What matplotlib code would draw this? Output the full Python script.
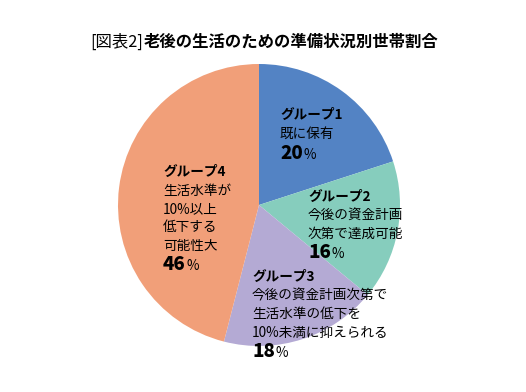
import matplotlib
matplotlib.use("Agg")
import matplotlib.pyplot as plt

plt.rcParams['font.family'] = ['Noto Sans CJK JP', 'DejaVu Sans']

title_pre = "[図表2]"
title_main = "老後の生活のための準備状況別世帯割合"
groups = ["グループ1", "グループ2", "グループ3", "グループ4"]
descs = [
    ["既に保有"],
    ["今後の資金計画", "次第で達成可能"],
    ["今後の資金計画次第で", "生活水準の低下を", "10%未満に抑えられる"],
    ["生活水準が", "10%以上", "低下する", "可能性大"],
]
shares = [20, 16, 18, 46]
colors = ["#5383c4", "#86cdbd", "#b4aad4", "#f19f79"]

W, H = 526, 392
fig = plt.figure(figsize=(W / 100, H / 100), dpi=100)

# pie centre and radius in pixels
cx, cy, r = 259, 205, 141
ax = fig.add_axes([(cx - r) / W, 1 - (cy + r) / H, 2 * r / W, 2 * r / H])
ax.pie(shares, colors=colors, startangle=90, counterclock=False, radius=1,
       wedgeprops=dict(linewidth=0))
ax.set_xlim(-1, 1)
ax.set_ylim(-1, 1)
ax.axis('off')

renderer = fig.canvas.get_renderer()


def px(x, y):
    return x / W, 1 - y / H


# title
t1 = fig.text(*px(90, 42), title_pre, fontsize=11.8, va='center', ha='left')
bb = t1.get_window_extent(renderer)
fig.text((bb.x1 + 1) / W, 1 - 42 / H, title_main, fontsize=11.8,
         fontweight='bold', va='center', ha='left')

# label blocks: left x, first baseline y, line step
blocks = [(280, 119, 19), (308, 201, 18.5), (252, 281, 18.5), (163, 176, 18.5)]
for (lx, ly, step), g, d, s in zip(blocks, groups, descs, shares):
    y = ly
    fig.text(*px(lx, y), g, fontsize=9.8, fontweight='bold', va='baseline')
    for line in d:
        y += step
        fig.text(*px(lx, y), line, fontsize=9.8, va='baseline')
    y += step + 2
    tn = fig.text(*px(lx, y), str(s), fontsize=13.5, fontweight='black',
                  va='baseline')
    nb = tn.get_window_extent(renderer)
    fig.text((nb.x1 + 1) / W, 1 - y / H, "%", fontsize=9.8, va='baseline')

fig.savefig("out.png", dpi=100)
